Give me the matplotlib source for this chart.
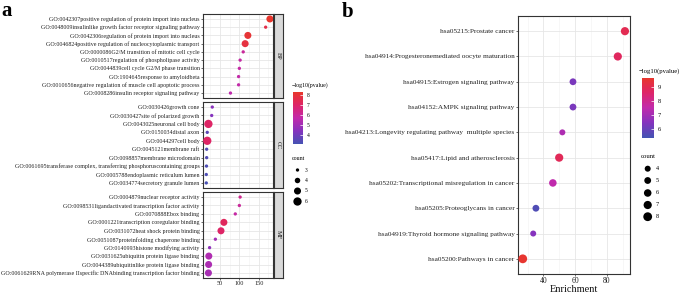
import numpy as np
import matplotlib
matplotlib.use("Agg")
import matplotlib.pyplot as plt
from matplotlib.colors import LinearSegmentedColormap, Normalize

plt.rcParams['font.family'] = ['Liberation Serif', 'DejaVu Serif']

# ---- panel a data (GO terms, top to bottom) ----
bp_terms = ["GO:0042307positive regulation of protein import into nucleus",
            "GO:0048009insulinlike growth factor receptor signaling pathway",
            "GO:0042306regulation of protein import into nucleus",
            "GO:0046824positive regulation of nucleocytoplasmic transport",
            "GO:0000086G2/M transition of mitotic cell cycle",
            "GO:0010517regulation of phospholipase activity",
            "GO:0044839cell cycle G2/M phase transition",
            "GO:1904645response to amyloidbeta",
            "GO:0010656negative regulation of muscle cell apoptotic process",
            "GO:0008286insulin receptor signaling pathway"]
bp_enrich = [179, 168, 122, 115, 110, 102, 100, 98, 98, 77]
bp_count = [5, 3, 5, 5, 3, 3, 3, 3, 3, 3]
bp_logp = [8.2, 7.6, 8.0, 7.8, 6.0, 5.8, 5.8, 5.7, 5.7, 5.6]

cc_terms = ["GO:0030426growth cone",
            "GO:0030427site of polarized growth",
            "GO:0043025neuronal cell body",
            "GO:0150034distal axon",
            "GO:0044297cell body",
            "GO:0045121membrane raft",
            "GO:0098857membrane microdomain",
            "GO:0061695transferase complex, transferring phosphoruscontaining groups",
            "GO:0005788endoplasmic reticulum lumen",
            "GO:0034774secretory granule lumen"]
cc_enrich = [30, 28.5, 20, 17, 17, 15.5, 15.5, 15, 14.5, 14.5]
cc_count = [3, 3, 6, 3, 6, 3, 3, 3, 3, 3]
cc_logp = [4.5, 4.4, 7.0, 3.6, 7.0, 3.4, 3.4, 3.3, 3.3, 3.2]

mf_terms = ["GO:0004879nuclear receptor activity",
            "GO:0098531ligandactivated transcription factor activity",
            "GO:0070888Ebox binding",
            "GO:0001221transcription coregulator binding",
            "GO:0031072heat shock protein binding",
            "GO:0051087proteinfolding chaperone binding",
            "GO:0140993histone modifying activity",
            "GO:0031625ubiquitin protein ligase binding",
            "GO:0044389ubiquitinlike protein ligase binding",
            "GO:0061629RNA polymerase IIspecific DNAbinding transcription factor binding"]
mf_enrich = [102, 100, 89.5, 60, 52.5, 38, 23, 21, 20.5, 20]
mf_count = [3, 3, 3, 5, 5, 3, 3, 5, 5, 5]
mf_logp = [6.2, 6.0, 5.8, 7.2, 7.0, 5.0, 4.6, 5.3, 5.2, 5.1]

# ---- panel b data (KEGG, top to bottom) ----
kegg_terms = ["hsa05215:Prostate cancer",
              "hsa04914:Progesteronemediated oocyte maturation",
              "hsa04915:Estrogen signaling pathway",
              "hsa04152:AMPK signaling pathway",
              "hsa04213:Longevity regulating pathway  multiple species",
              "hsa05417:Lipid and atherosclerosis",
              "hsa05202:Transcriptional misregulation in cancer",
              "hsa05205:Proteoglycans in cancer",
              "hsa04919:Thyroid hormone signaling pathway",
              "hsa05200:Pathways in cancer"]
kegg_enrich = [91.5, 87, 58.7, 58.7, 52, 50, 46, 35.3, 33.6, 27]
kegg_count = [7, 7, 5, 5, 4, 7, 6, 5, 4, 8]
kegg_logp = [9.0, 8.8, 6.3, 6.3, 7.2, 8.9, 7.5, 5.6, 6.5, 9.6]

W, H = 685, 293
cmap = LinearSegmentedColormap.from_list(
    "bpr", ["#4553B3", "#8533BE", "#C22AAB", "#DE2568", "#E8372B"])
norm_a = Normalize(3.1, 8.25)
norm_b = Normalize(5.4, 9.7)
dark = "#333333"


def size_a(c):
    d = np.sqrt(11 + 19.3 * (np.asarray(c, float) - 3))
    return (d * 0.72) ** 2


def size_b(c):
    d = np.sqrt(36 + 10.4 * (np.asarray(c, float) - 4))
    return (d * 0.72) ** 2


def box(x0, y0, x1, y1):
    return [x0 / W, 1 - y1 / H, (x1 - x0) / W, (y1 - y0) / H]


fig = plt.figure(figsize=(W / 100, H / 100), dpi=100)


def style_axes(ax, fs_y, fs_x):
    ax.set_facecolor("white")
    ax.grid(True, which="major", color="#E6E6E6", lw=0.6)
    ax.grid(True, which="minor", axis="x", color="#F2F2F2", lw=0.4)
    ax.set_axisbelow(True)
    for s in ax.spines.values():
        s.set_color(dark)
        s.set_linewidth(0.8)
    ax.tick_params(axis="both", which="major", length=1.5, width=0.5,
                   color=dark, pad=1, labelcolor="#222222")
    ax.tick_params(axis="y", labelsize=fs_y)
    ax.tick_params(axis="x", labelsize=fs_x)
    ax.tick_params(axis="both", which="minor", length=0)


facets = [("BP", bp_terms, bp_enrich, bp_count, bp_logp, 14, 98),
          ("CC", cc_terms, cc_enrich, cc_count, cc_logp, 102, 188),
          ("MF", mf_terms, mf_enrich, mf_count, mf_logp, 192, 278)]

for i, (name, terms, enr, cnt, lp, y0, y1) in enumerate(facets):
    ax = fig.add_axes(box(203, y0, 273, y1))
    ypos = np.arange(len(terms))[::-1]
    ax.scatter(enr, ypos, s=size_a(cnt), c=lp, cmap=cmap, norm=norm_a,
               edgecolors="none", zorder=3)
    ax.set_xlim(6, 187)
    ax.set_ylim(-0.6, len(terms) - 0.4)
    ax.set_yticks(ypos)
    ax.set_yticklabels(terms)
    ax.set_xticks([50, 100, 150])
    ax.set_xticks([25, 75, 125, 175], minor=True)
    style_axes(ax, 4.3, 4.5)
    if i < 2:
        ax.tick_params(axis="x", labelbottom=False, length=0)
    sax = fig.add_axes(box(273.5, y0, 283, y1))
    sax.set_facecolor("#D9D9D9")
    sax.set_xticks([])
    sax.set_yticks([])
    for s in sax.spines.values():
        s.set_color(dark)
        s.set_linewidth(0.8)
    sax.text(0.5, 0.5, name, rotation=-90, ha="center", va="center",
             fontsize=4.5, color="#1A1A1A", transform=sax.transAxes)

# ---- panel b ----
axb = fig.add_axes(box(518, 16, 630, 274))
yb = np.arange(len(kegg_terms))[::-1]
axb.scatter(kegg_enrich, yb, s=size_b(kegg_count), c=kegg_logp, cmap=cmap,
            norm=norm_b, edgecolors="none", zorder=3)
axb.set_xlim(24, 94.7)
axb.set_ylim(-0.6, len(kegg_terms) - 0.4)
axb.set_yticks(yb)
axb.set_yticklabels(kegg_terms)
axb.set_xticks([40, 60, 80])
axb.set_xticks([30, 50, 70, 90], minor=True)
style_axes(axb, 5.2, 5.5)
axb.set_xlabel("Enrichment", fontsize=7.5, labelpad=0, color="#111111")

# ---- colorbars ----
for (x0, y0, x1, y1, norm, ticks, fs) in [
        (293, 92, 303, 144, norm_a, [4, 5, 6, 7, 8], 4),
        (641.5, 77.5, 654, 137.5, norm_b, [6, 7, 8, 9], 4.5)]:
    cax = fig.add_axes(box(x0, y0, x1, y1))
    sm = plt.cm.ScalarMappable(norm=norm, cmap=cmap)
    cb = fig.colorbar(sm, cax=cax, ticks=ticks)
    cb.outline.set_visible(False)
    cax.tick_params(length=2.5, width=0.5, color="white", direction="in",
                    labelsize=fs, pad=2.5)
    cax.tick_params(which="minor", length=0)

# ---- legend titles and count keys (overlay in pixel coords) ----
ov = fig.add_axes([0, 0, 1, 1])
ov.set_xlim(0, W)
ov.set_ylim(H, 0)
ov.axis("off")
ov.text(292, 88, "\u2212log10(pvalue)", fontsize=4.2, ha="left", va="bottom")
ov.text(292, 161, "count", fontsize=4.2, ha="left", va="bottom")
for c, yy in zip([3, 4, 5, 6], [170, 180.5, 191, 201.5]):
    ov.scatter([297.5], [yy], s=size_a(c), color="black", edgecolors="none")
    ov.text(305, yy, str(c), fontsize=4, ha="left", va="center")

ov.text(639, 74, "\u2212log10(pvalue)", fontsize=4.8, ha="left", va="bottom")
ov.text(641, 159, "count", fontsize=4.8, ha="left", va="bottom")
for c, yy in zip([4, 5, 6, 7, 8], [168.7, 180.5, 193, 205, 216.7]):
    ov.scatter([647.7], [yy], s=size_b(c), color="black", edgecolors="none")
    ov.text(656, yy, str(c), fontsize=4.5, ha="left", va="center")

ov.text(1, 16, "a", fontsize=15, fontweight="bold", ha="left", va="baseline")
ov.text(342, 17, "b", fontsize=15, fontweight="bold", ha="left", va="baseline")

fig.savefig("out.png", dpi=100)
